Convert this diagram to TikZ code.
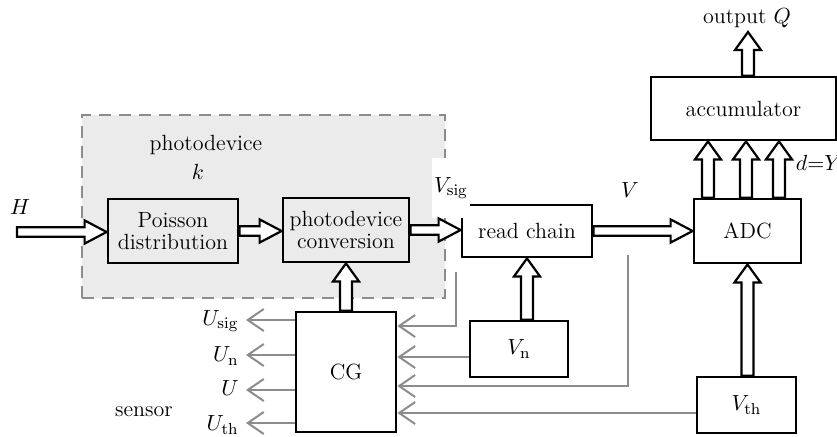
\documentclass[tikz,border=0pt]{standalone}
\usetikzlibrary{arrows.meta,calc}
\definecolor{bggray}{HTML}{EBEBEB}
\definecolor{lgray}{HTML}{8C8C8C}
\newcommand\fatH[2]{\draw[fat] let \p1=#1, \p2=#2 in
  (\x1,\y1+2.4pt) -- (\x2-11pt,\y1+2.4pt) -- (\x2-11pt,\y1+5.8pt) -- (\x2,\y1)
  -- (\x2-11pt,\y1-5.8pt) -- (\x2-11pt,\y1-2.4pt) -- (\x1,\y1-2.4pt) -- cycle;}
\newcommand\fatV[2]{\draw[fat] let \p1=#1, \p2=#2 in
  (\x1-3pt,\y1) -- (\x1-3pt,\y2-9pt) -- (\x1-6.5pt,\y2-9pt) -- (\x1,\y2)
  -- (\x1+6.5pt,\y2-9pt) -- (\x1+3pt,\y2-9pt) -- (\x1+3pt,\y1) -- cycle;}
\begin{document}
\begin{tikzpicture}[x=0.5pt,y=-0.5pt,
  font=\fontsize{11}{13}\selectfont,
  box/.style={draw=black,line width=1.4pt,fill=white,inner sep=1pt,align=center},
  gbox/.style={box,fill=bggray},
  fat/.style={draw=black,line width=1.1pt,fill=white,line join=miter},
  dashbox/.style={draw=lgray,line width=1pt,fill=bggray,dash pattern=on 6pt off 4pt},
  gline/.style={draw=lgray,line width=1pt},
  garrow/.style={gline,-{Straight Barb[length=8pt,width=11pt,line width=1pt]}},
  lbl/.style={inner sep=1pt}]
\useasboundingbox (0,0) rectangle (837,436);
% container
\node[dashbox,minimum width=181.5pt,minimum height=91.5pt] (pd) at (263.5,206.5) {};
\node[lbl] (pdt) at (206,145) {photodevice};
\node[lbl] (kt) at (198,172) {$k$};
% boxes
\node[gbox,minimum width=65pt,minimum height=32pt] (pois) at (173,231) {Poisson\\[-2pt]distribution};
\node[gbox,minimum width=63pt,minimum height=32pt] (conv) at (346,230) {photodevice\\[-2pt]conversion};
\node[box,minimum width=65pt,minimum height=26pt] (read) at (527,231) {read chain};
\node[box,minimum width=53.5pt,minimum height=32pt] (adc) at (747.5,231) {ADC};
\node[box,minimum width=92.5pt,minimum height=31.5pt] (acc) at (743.5,108.5) {accumulator};
\node[box,minimum width=50pt,minimum height=60pt] (cg) at (346,372) {CG};
\node[box,minimum width=49pt,minimum height=28pt] (vn) at (519,349) {$V_{\mathrm{n}}$};
\node[box,minimum width=49.5pt,minimum height=28pt] (vth) at (746.5,405) {$V_{\mathrm{th}}$};
% labels
\node[lbl] (H) at (20,207) {$H$};
\node[lbl,fill=white,minimum height=30pt,minimum width=12pt] (vsig) at (451,188) {$V_{\mathrm{sig}}$};
\node[lbl] (V) at (630,190) {$V$};
\node[lbl] (outq) at (747,18) {output $Q$};
\node[lbl] (dy) at (819,163) {$d{=}Y$};
\node[lbl] (sensor) at (144,412) {sensor};
% coordinates
\coordinate (hs) at (17,232);
\coordinate (qtip) at (748,32);
\coordinate (a1) at (708,0);
\coordinate (a2) at (746,0);
\coordinate (a3) at (779,0);
% hollow arrows
\fatH{(hs)}{(pois.west |- hs)}
\fatH{(pois.east)}{(conv.west |- pois.east)}
\fatH{(conv.east)}{(read.west |- conv.east)}
\fatH{(read.east)}{(adc.west |- read.east)}
\fatV{(acc.north -| qtip)}{(qtip)}
\fatV{(adc.north -| a1)}{(acc.south -| a1)}
\fatV{(adc.north -| a2)}{(acc.south -| a2)}
\fatV{(adc.north -| a3)}{(acc.south -| a3)}
\fatV{(cg.north -| conv.south)}{(conv.south)}
\fatV{(vn.north -| read.south)}{(read.south)}
\fatV{(vth.north -| adc.south)}{(adc.south)}
% left outputs of CG
\coordinate (l1) at (246,320);
\coordinate (l2) at (246,355);
\coordinate (l3) at (246,390);
\coordinate (l4) at (246,423);
\draw[garrow] (cg.west |- l1) -- (l1);
\draw[garrow] (cg.west |- l2) -- (l2);
\draw[garrow] (cg.west |- l3) -- (l3);
\draw[garrow] (cg.west |- l4) -- (l4);
\node[lbl,anchor=east] (u1) at (241,321) {$U_{\mathrm{sig}}$};
\node[lbl,anchor=east] (u2) at (241,356) {$U_{\mathrm{n}}$};
\node[lbl,anchor=east] (u3) at (241,388) {$U$};
\node[lbl,anchor=east] (u4) at (241,425) {$U_{\mathrm{th}}$};
% right inputs of CG
\coordinate (t1) at (456,272);
\coordinate (e1) at (396,326);
\coordinate (t3) at (628,255);
\coordinate (e3) at (396,386);
\draw[garrow] (t1) |- (cg.east |- e1);
\draw[garrow] ($(vn.west)+(0,8)$) -- (cg.east |- {$(vn.west)+(0,8)$});
\draw[garrow] (t3) |- (cg.east |- e3);
\draw[garrow] ($(vth.west)+(0,8)$) -- (cg.east |- {$(vth.west)+(0,8)$});
\end{tikzpicture}
\end{document}
